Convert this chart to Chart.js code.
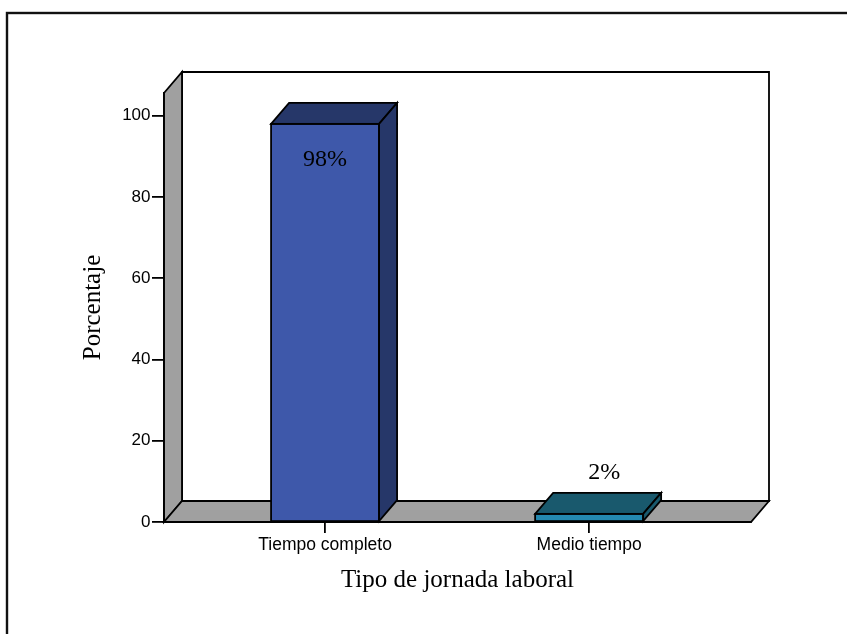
<!DOCTYPE html>
<html lang="es">
<head>
<meta charset="utf-8">
<title>Tipo de jornada laboral</title>
<script src="https://cdn.jsdelivr.net/npm/chart.js@4.4.1/dist/chart.umd.min.js"></script>
<style>
  html, body { margin: 0; padding: 0; background: #fff; }
  canvas { display: block; }
</style>
</head>
<body>
<canvas id="grafico" width="847" height="634"></canvas>
<script>
// Datos
const categorias = ['Tiempo completo', 'Medio tiempo'];
const porcentajes = [98, 2];
const etiquetas = ['98%', '2%'];
const ticksY = [0, 20, 40, 60, 80, 100];

// Colores de cada barra: frente, y cara superior / lateral
const coloresFrente = ['#3e58aa', '#2489b0'];
const coloresSombra = ['#263769', '#19596d'];

const PROF_X = 18;   // desplazamiento de profundidad (perspectiva)
const PROF_Y = -21;
const GRIS = '#a0a0a0';
const LINEA = 1.8;

const serif = '"Liberation Serif", "Times New Roman", serif';
const sans = '"Liberation Sans", Arial, sans-serif';

function poligono(ctx, pts, relleno) {
  ctx.beginPath();
  ctx.moveTo(pts[0][0], pts[0][1]);
  for (let i = 1; i < pts.length; i++) ctx.lineTo(pts[i][0], pts[i][1]);
  ctx.closePath();
  if (relleno) { ctx.fillStyle = relleno; ctx.fill(); }
  ctx.stroke();
}

// Marco exterior, pared del fondo, pared izquierda y piso
const escenario = {
  id: 'escenario',
  beforeDraw(chart) {
    const ctx = chart.ctx;
    const a = chart.chartArea;
    ctx.save();
    ctx.strokeStyle = '#111';
    ctx.lineWidth = 2.4;
    ctx.strokeRect(7, 13, 1000, 1000);

    ctx.lineWidth = LINEA;
    ctx.strokeStyle = '#000';
    ctx.lineJoin = 'miter';
    // pared del fondo
    poligono(ctx, [
      [a.left + PROF_X, a.top + PROF_Y], [a.right + PROF_X, a.top + PROF_Y],
      [a.right + PROF_X, a.bottom + PROF_Y], [a.left + PROF_X, a.bottom + PROF_Y]
    ], '#fff');
    // pared izquierda
    poligono(ctx, [
      [a.left, a.top], [a.left + PROF_X, a.top + PROF_Y],
      [a.left + PROF_X, a.bottom + PROF_Y], [a.left, a.bottom]
    ], GRIS);
    // piso
    poligono(ctx, [
      [a.left, a.bottom], [a.left + PROF_X, a.bottom + PROF_Y],
      [a.right + PROF_X, a.bottom + PROF_Y], [a.right, a.bottom]
    ], GRIS);
    ctx.restore();
  }
};

// Caras superior y lateral de cada barra, y la etiqueta de porcentaje
const barras3d = {
  id: 'barras3d',
  afterDatasetsDraw(chart) {
    const ctx = chart.ctx;
    const meta = chart.getDatasetMeta(0);
    ctx.save();
    ctx.lineWidth = LINEA;
    ctx.strokeStyle = '#000';
    meta.data.forEach((bar, i) => {
      const p = bar.getProps(['x', 'y', 'base', 'width'], true);
      const izq = p.x - p.width / 2;
      const der = p.x + p.width / 2;
      const arriba = p.y;
      const abajo = p.base;
      poligono(ctx, [
        [izq, arriba], [der, arriba],
        [der + PROF_X, arriba + PROF_Y], [izq + PROF_X, arriba + PROF_Y]
      ], coloresSombra[i]);
      poligono(ctx, [
        [der, arriba], [der + PROF_X, arriba + PROF_Y],
        [der + PROF_X, abajo + PROF_Y], [der, abajo]
      ], coloresSombra[i]);
      // contorno del frente
      ctx.strokeRect(izq, arriba, der - izq, abajo - arriba);

      ctx.fillStyle = '#000';
      ctx.font = '24px ' + serif;
      ctx.textAlign = 'center';
      ctx.textBaseline = 'middle';
      if (abajo - arriba > 60) {
        ctx.fillText(etiquetas[i], p.x, arriba + 36);
      } else {
        ctx.fillText(etiquetas[i], p.x + 15, arriba + PROF_Y - 20);
      }
    });
    ctx.restore();
  }
};

new Chart(document.getElementById('grafico'), {
  type: 'bar',
  data: {
    datasets: [{
      data: porcentajes.map((v, i) => ({ x: i, y: v })),
      backgroundColor: coloresFrente,
      borderColor: '#000',
      borderWidth: 0,
      categoryPercentage: 1,
      barPercentage: 0.409
    }]
  },
  options: {
    responsive: false,
    animation: false,
    events: [],
    layout: { padding: { top: 93, right: 96, bottom: 0, left: 0 } },
    plugins: {
      legend: { display: false },
      tooltip: { enabled: false }
    },
    scales: {
      x: {
        type: 'linear',
        offset: false,
        min: -0.61,
        max: 1.613,
        afterBuildTicks(scale) {
          scale.ticks = categorias.map((_, i) => ({ value: i }));
        },
        afterFit(scale) { scale.height = 112; },
        grid: {
          offset: false,
          drawOnChartArea: false,
          drawTicks: true,
          tickLength: 11,
          color: '#000',
          lineWidth: LINEA
        },
        border: { display: true, color: '#000', width: LINEA },
        ticks: {
          autoSkip: false,
          maxRotation: 0,
          padding: 1.5,
          color: '#000',
          font: { family: sans, size: 17.5 },
          callback: (v) => categorias[v]
        },
        title: {
          display: true,
          text: 'Tipo de jornada laboral',
          color: '#000',
          font: { family: serif, size: 25 },
          padding: { top: 0, bottom: 39 }
        }
      },
      y: {
        min: 0,
        max: 105.6,
        afterBuildTicks(scale) {
          scale.ticks = ticksY.map((v) => ({ value: v }));
        },
        afterFit(scale) { scale.width = 164; },
        grid: {
          drawOnChartArea: false,
          drawTicks: true,
          tickLength: 12,
          color: '#000',
          lineWidth: LINEA
        },
        border: { display: true, color: '#000', width: LINEA },
        ticks: {
          padding: 1.5,
          color: '#000',
          font: { family: sans, size: 17 }
        },
        title: {
          display: true,
          text: 'Porcentaje',
          color: '#000',
          font: { family: serif, size: 25 },
          padding: { top: 78, bottom: 0 }
        }
      }
    }
  },
  plugins: [escenario, barras3d]
});
</script>
</body>
</html>
